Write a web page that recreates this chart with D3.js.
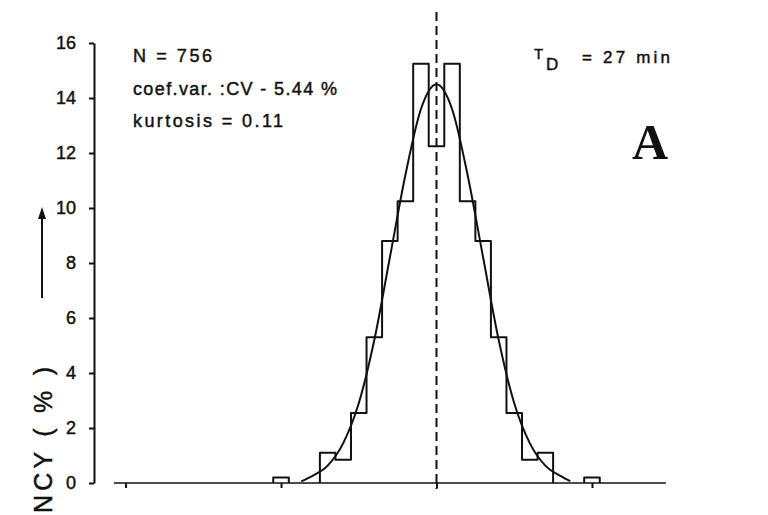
<!DOCTYPE html>
<html>
<head>
<meta charset="utf-8">
<script src="https://cdn.jsdelivr.net/npm/d3@7"></script>
<style>
  html, body { margin: 0; padding: 0; background: #fff; }
  svg { display: block; }
  text { font-family: "Liberation Sans", Arial, sans-serif; fill: #111; stroke: #111; stroke-width: 0.45px; }
</style>
</head>
<body>
<svg id="chart" width="768" height="515"></svg>
<script>
// ---- data ----
// histogram bins (bin index, centred on the mean) and frequencies in %
const binCenters  = [-10, -7, -6, -5, -4, -3, -2, -1, 0, 1, 2, 3, 4, 5, 6, 7, 10];
const frequencies = [0.2, 1.1, 0.85, 2.55, 5.3, 8.8, 10.25, 15.25, 12.25, 15.25, 10.25, 8.8, 5.3, 2.55, 0.85, 1.1, 0.2];
// fitted curve, points
const fitX = [-8.7, -8, -7, -6, -5, -4, -3, -2, -1, 0, 1, 2, 3, 4, 5, 6, 7, 8, 8.6];
const fitY = [0.06, 0.25, 0.63, 1.45, 2.9, 5.2, 8.2, 11.2, 13.6, 14.5, 13.6, 11.2, 8.2, 5.2, 2.9, 1.45, 0.63, 0.25, 0.07];
const yTicks = [0, 2, 4, 6, 8, 10, 12, 14, 16];
const xTicks = [-20, -10, 0, 10];
const annotations = ["N = 756", "coef.var. :CV - 5.44 %", "kurtosis = 0.11"];

const svg = d3.select("#chart");
const x = d3.scaleLinear().domain([-21, 21]).range([110, 763]);
const y = d3.scaleLinear().domain([0, 16]).range([483, 43]);
const ink = "#111";

// y axis
const yAxis = d3.axisLeft(y).tickValues(yTicks).tickSize(5).tickPadding(13).tickSizeOuter(0);
const gy = svg.append("g").attr("transform", "translate(94,0)").call(yAxis);
gy.select(".domain").attr("stroke", ink).attr("stroke-width", 2);
gy.selectAll(".tick line").attr("stroke", ink).attr("stroke-width", 2);
gy.selectAll(".tick text").attr("font-size", 18).attr("fill", ink)
  .style("font-family", "'Liberation Sans', Arial, sans-serif");

// x axis (no labels)
const xAxis = d3.axisBottom(x).tickValues(xTicks).tickSize(5).tickFormat("").tickSizeOuter(0);
const gx = svg.append("g").attr("transform", "translate(0,483)").call(xAxis);
gx.select(".domain").remove();
gx.selectAll(".tick line").attr("stroke", ink).attr("stroke-width", 2);
svg.append("line")
  .attr("x1", x(-20.75)).attr("x2", x(14.75))
  .attr("y1", y(0)).attr("y2", y(0))
  .attr("stroke", ink).attr("stroke-width", 1.6);

// histogram as step outlines over contiguous runs of bins
const bins = binCenters.map((b, i) => ({b, v: frequencies[i]}));
const runs = [];
bins.forEach(d => {
  const last = runs[runs.length - 1];
  if (last && d.b === last[last.length - 1].b + 1) last.push(d); else runs.push([d]);
});
const step = d3.line().x(p => x(p[0])).y(p => y(p[1])).curve(d3.curveStepAfter);
svg.append("g").selectAll("path")
  .data(runs)
  .join("path")
  .attr("d", r => {
    const pts = [[r[0].b - 0.5, 0]];
    r.forEach(d => pts.push([d.b - 0.5, d.v]));
    const lastBin = r[r.length - 1];
    pts.push([lastBin.b + 0.5, lastBin.v]);
    pts.push([lastBin.b + 0.5, 0]);
    return step(pts);
  })
  .attr("fill", "none")
  .attr("stroke", ink)
  .attr("stroke-width", 2)
  .attr("stroke-linejoin", "round");

// fitted curve
const line = d3.line().x(d => x(d[0])).y(d => y(d[1])).curve(d3.curveMonotoneX);
svg.append("path")
  .datum(fitX.map((v, i) => [v, fitY[i]]))
  .attr("d", line)
  .attr("fill", "none")
  .attr("stroke", ink)
  .attr("stroke-width", 2);

// dashed mean line
svg.append("line")
  .attr("x1", x(0)).attr("x2", x(0))
  .attr("y1", 12).attr("y2", 489)
  .attr("stroke", ink).attr("stroke-width", 2)
  .attr("stroke-dasharray", "9,5");

// annotations
const annY = [62, 95, 127];
const annW = [79, 204, 150];
annotations.forEach((t, i) => {
  svg.append("text").attr("x", 133).attr("y", annY[i])
    .attr("font-size", 18)
    .attr("textLength", annW[i]).attr("lengthAdjust", "spacing")
    .text(t);
});

// T_D = 27 min
svg.append("text").attr("x", 534).attr("y", 59).attr("font-size", 15).text("T");
svg.append("text").attr("x", 546).attr("y", 70).attr("font-size", 17).text("D");
svg.append("text").attr("x", 582).attr("y", 63).attr("font-size", 17)
  .attr("textLength", 88).attr("lengthAdjust", "spacing").text("= 27  min");

// panel letter
svg.append("text").attr("x", 650).attr("y", 159)
  .attr("text-anchor", "middle")
  .attr("font-size", 50).attr("font-weight", "bold")
  .style("font-family", "'Liberation Serif', 'Times New Roman', serif")
  .style("stroke-width", "0")
  .text("A");

// y label (rotated, partly cut at the bottom)
svg.append("text")
  .attr("transform", "translate(52,367) rotate(-90)")
  .attr("text-anchor", "end")
  .attr("font-size", 25)
  .attr("textLength", 146).attr("lengthAdjust", "spacing")
  .text("NCY  ( % )");

// arrow
svg.append("line").attr("x1", 42).attr("x2", 42).attr("y1", 298).attr("y2", 215)
  .attr("stroke", ink).attr("stroke-width", 2);
svg.append("path").attr("d", "M42,207 L38,219 L46,219 Z").attr("fill", ink);
</script>
</body>
</html>
